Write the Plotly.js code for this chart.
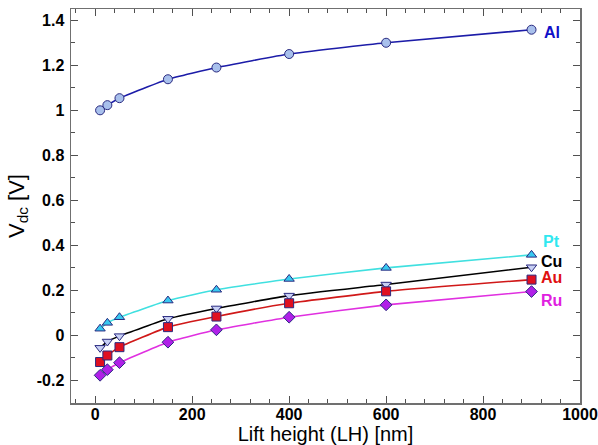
<!DOCTYPE html>
<html>
<head>
<meta charset="utf-8">
<script src="https://cdn.plot.ly/plotly-3.0.1.min.js"></script>
<style>html,body{margin:0;padding:0;background:#fff;}#chart{width:598px;height:445px;}</style>
</head>
<body>
<div id="chart"></div>
<script>
// Data
var liftHeight = [10, 25, 50, 150, 250, 400, 600, 900];
var vAl = [1.0, 1.023, 1.054, 1.138, 1.19, 1.25, 1.30, 1.358];
var vPt = [0.030, 0.056, 0.081, 0.155, 0.203, 0.251, 0.300, 0.358];
var vCu = [-0.055, -0.027, -0.003, 0.074, 0.120, 0.177, 0.226, 0.303];
var vAu = [-0.118, -0.089, -0.052, 0.037, 0.084, 0.143, 0.196, 0.248];
var vRu = [-0.177, -0.152, -0.121, -0.030, 0.025, 0.081, 0.136, 0.195];
var seriesNames = ['Al', 'Pt', 'Cu', 'Au', 'Ru'];
var yTickVals = [-0.2, 0, 0.2, 0.4, 0.6, 0.8, 1, 1.2, 1.4];
var yTickText = ['-0.2', '0', '0.2', '0.4', '0.6', '0.8', '1', '1.2', '1.4'];
var xTickVals = [0, 200, 400, 600, 800, 1000];

var outline = '#2a2a80';
function tr(y, name, lineColor, symbol, fill) {
  return {
    x: liftHeight, y: y, name: name, type: 'scatter', mode: 'lines+markers',
    line: {color: lineColor, width: 1.6, shape: 'spline', smoothing: 0.4},
    marker: {symbol: symbol, size: 9, color: fill, line: {color: outline, width: 1}},
    showlegend: false
  };
}
var data = [
  tr(vAl, seriesNames[0], '#1c1ca8', 'circle', '#a8c0ec'),
  tr(vPt, seriesNames[1], '#40e0e0', 'triangle-up', '#38c8f0'),
  tr(vCu, seriesNames[2], '#000000', 'triangle-down', '#c8d0f4'),
  tr(vAu, seriesNames[3], '#d01818', 'square', '#e01020'),
  tr(vRu, seriesNames[4], '#e030e0', 'diamond', '#b020e8')
];

var labelFont = function(c){ return {family: 'Arial, Liberation Sans, sans-serif', size: 16, color: c, weight: 'bold'}; };
var annotations = [
  {x: 942, y: 1.345, text: '<b>Al</b>', color: '#1010c8'},
  {x: 942, y: 0.418, text: '<b>Pt</b>', color: '#30e8f0'},
  {x: 942, y: 0.330, text: '<b>Cu</b>', color: '#000000'},
  {x: 942, y: 0.256, text: '<b>Au</b>', color: '#e01010'},
  {x: 942, y: 0.155, text: '<b>Ru</b>', color: '#e020e0'}
].map(function(a){
  return {x: a.x, y: a.y, xref: 'x', yref: 'y', text: a.text, showarrow: false,
          xanchor: 'center', yanchor: 'middle', font: labelFont(a.color)};
});

var tickFont = {family: 'Arial, Liberation Sans, sans-serif', size: 16, color: '#000', weight: 'bold'};
var layout = {
  width: 598, height: 445,
  margin: {l: 71, r: 18, t: 9, b: 42},
  paper_bgcolor: '#fff', plot_bgcolor: '#fff',
  annotations: annotations,
  xaxis: {
    range: [-50, 1000], showgrid: false, zeroline: false,
    showline: true, linecolor: '#707070', linewidth: 1.5, mirror: 'allticks',
    ticks: 'inside', ticklen: 7, tickwidth: 1, tickcolor: '#505050',
    tickmode: 'array', tickvals: xTickVals, ticklabelstandoff: -4,
    minor: {ticks: 'inside', tickmode: 'linear', tick0: 0, dtick: 40, ticklen: 4, tickcolor: '#505050'},
    tickfont: tickFont,
    title: {text: 'Lift height (LH) [nm]', font: {family: 'Arial, Liberation Sans, sans-serif', size: 20, color: '#000'}, standoff: 3}
  },
  yaxis: {
    range: [-0.3, 1.45], showgrid: false, zeroline: false,
    showline: true, linecolor: '#707070', linewidth: 1.5, mirror: 'allticks',
    ticks: 'inside', ticklen: 7, tickwidth: 1, tickcolor: '#505050',
    tickmode: 'array', tickvals: yTickVals, ticktext: yTickText, ticklabelstandoff: 2,
    minor: {ticks: 'inside', tickmode: 'linear', tick0: 0, dtick: 0.1, ticklen: 4, tickcolor: '#505050'},
    tickfont: tickFont,
    title: {text: 'V<sub>dc</sub> [V]', font: {family: 'Arial, Liberation Sans, sans-serif', size: 22, color: '#000'}, standoff: 6}
  }
};
Plotly.newPlot('chart', data, layout, {staticPlot: true, displayModeBar: false});
</script>
</body>
</html>
